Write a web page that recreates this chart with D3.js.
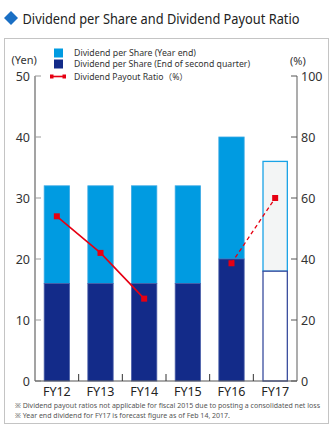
<!DOCTYPE html>
<html><head><meta charset="utf-8">
<script src="https://cdn.jsdelivr.net/npm/d3@7/dist/d3.min.js"></script>
<style>body{margin:0;background:#fff}svg{display:block}text{font-family:"Noto Sans","Noto Sans CJK JP",sans-serif}</style>
</head><body><svg id="c" width="330" height="434"></svg>
<script>
const categories = ["FY12","FY13","FY14","FY15","FY16","FY17"];
const secondQuarter = [16,16,16,16,20,18];
const yearEnd = [16,16,16,16,20,18];
const payoutRatio = [54,42,27,null,38.6,60];
const forecast = [false,false,false,false,false,true];
const yenTicks = [0,10,20,30,40,50];
const pctTicks = [0,20,40,60,80,100];

const svg = d3.select("#c");
const m = {l:35, r:297, t:76, b:381};
const x = d3.scaleBand().domain(categories).range([m.l, m.r]).paddingInner(0.42).paddingOuter(0.21);
const y = d3.scaleLinear().domain([0,50]).range([m.b, m.t]);
const y2 = d3.scaleLinear().domain([0,100]).range([m.b, m.t]);

const LB = "#009be1", NAVY = "#132b89", RED = "#e60012";

// Title
svg.append("path").attr("d","M11,11 L18,18 L11,25 L4,18 Z").attr("fill","#1a6fc4");
svg.append("text").attr("x",22.5).attr("y",23.5).attr("font-size",14).attr("fill","#222")
  .attr("textLength",277).attr("lengthAdjust","spacingAndGlyphs")
  .text("Dividend per Share and Dividend Payout Ratio");

// Frame
svg.append("rect").attr("x",4.5).attr("y",38.5).attr("width",324).attr("height",385)
  .attr("fill","none").attr("stroke","#c4c4c4");

// Bars
const g = svg.append("g");
categories.forEach((c,i)=>{
  const bx = x(c), bw = x.bandwidth();
  const total = secondQuarter[i] + yearEnd[i];
  if (!forecast[i]) {
    g.append("rect").attr("x",bx).attr("y",y(total)).attr("width",bw)
      .attr("height",y(secondQuarter[i]) - y(total)).attr("fill",LB).attr("stroke","#3aa9e4").attr("stroke-width",0.8);
    g.append("rect").attr("x",bx).attr("y",y(secondQuarter[i])).attr("width",bw)
      .attr("height",y(0) - y(secondQuarter[i])).attr("fill",NAVY).attr("stroke","#4a5fa8").attr("stroke-width",0.8);
  } else {
    g.append("rect").attr("x",bx+0.5).attr("y",y(total)).attr("width",bw-1)
      .attr("height",y(secondQuarter[i]) - y(total)).attr("fill","#f3f5f5").attr("stroke","#1aa3e6").attr("stroke-width",1.3);
    g.append("rect").attr("x",bx+0.5).attr("y",y(secondQuarter[i])).attr("width",bw-1)
      .attr("height",y(0) - y(secondQuarter[i])).attr("fill","#fff").attr("stroke","#3a4d9e").attr("stroke-width",1.3);
  }
});

// Axes
const left = svg.append("g");
left.append("line").attr("x1",m.l).attr("x2",m.l).attr("y1",m.t).attr("y2",m.b).attr("stroke","#666").attr("stroke-width",1.2);
yenTicks.forEach(t=>{
  left.append("line").attr("x1",m.l).attr("x2",m.l+6).attr("y1",y(t)).attr("y2",y(t)).attr("stroke","#999");
  left.append("text").attr("x",30).attr("y",y(t)+4.5).attr("text-anchor","end").attr("font-size",12.5).attr("fill","#333").text(t);
});
const right = svg.append("g");
right.append("line").attr("x1",m.r).attr("x2",m.r).attr("y1",m.t).attr("y2",m.b).attr("stroke","#999").attr("stroke-width",1.6);
pctTicks.forEach(t=>{
  right.append("line").attr("x1",m.r-6).attr("x2",m.r).attr("y1",y2(t)).attr("y2",y2(t)).attr("stroke","#555");
  right.append("text").attr("x",301).attr("y",y2(t)+4.5).attr("text-anchor","start").attr("font-size",12.5).attr("fill","#333").text(t);
});
// bottom
svg.append("line").attr("x1",m.l).attr("x2",m.r).attr("y1",m.b).attr("y2",m.b).attr("stroke","#555").attr("stroke-width",1.2);
categories.slice(1).forEach(c=>{
  const bx = x(c) - x.step()*x.paddingInner()/2;
  svg.append("line").attr("x1",bx).attr("x2",bx).attr("y1",m.b-7).attr("y2",m.b).attr("stroke","#333");
});
categories.forEach(c=>{
  svg.append("text").attr("x",x(c)+x.bandwidth()/2).attr("y",396).attr("text-anchor","middle")
    .attr("font-size",12.5).attr("fill","#222").text(c);
});

svg.append("text").attr("x",11.5).attr("y",64).attr("font-size",11).attr("fill","#333").text("(Yen)");
svg.append("text").attr("x",290).attr("y",65).attr("font-size",11).attr("fill","#333").text("(%)");

// Payout line
const pts = categories.map((c,i)=>({x:x(c)+x.bandwidth()/2, y: payoutRatio[i]==null?null:y2(payoutRatio[i]), f:forecast[i], i}));
const line = d3.line().x(d=>d.x).y(d=>d.y);
const actual = pts.filter(d=>d.y!=null && !d.f && d.i<3);
svg.append("path").attr("d",line(actual)).attr("fill","none").attr("stroke",RED).attr("stroke-width",1.6);
const dashed = pts.filter(d=>d.i>=4);
svg.append("path").attr("d",line(dashed)).attr("fill","none").attr("stroke",RED).attr("stroke-width",1.3).attr("stroke-dasharray","4,3");
pts.filter(d=>d.y!=null).forEach(d=>{
  svg.append("rect").attr("x",d.x-3).attr("y",d.y-3).attr("width",6).attr("height",6).attr("fill",RED);
});

// Legend
svg.append("rect").attr("x",54).attr("y",48.5).attr("width",9).attr("height",9).attr("fill",LB);
svg.append("rect").attr("x",54).attr("y",59.5).attr("width",9).attr("height",9).attr("fill",NAVY);
svg.append("line").attr("x1",50).attr("x2",66).attr("y1",76.5).attr("y2",76.5).attr("stroke",RED).attr("stroke-width",1.6);
svg.append("rect").attr("x",50).attr("y",74.5).attr("width",3.5).attr("height",4).attr("fill",RED);
svg.append("rect").attr("x",62.5).attr("y",74.5).attr("width",3.5).attr("height",4).attr("fill",RED);
const legT = [["Dividend per Share (Year end)",55.5,122],["Dividend per Share (End of second quarter)",66.5,176],["Dividend Payout Ratio（%）",80,114]];
legT.forEach(([t,yy,w])=>{
  svg.append("text").attr("x",74).attr("y",yy).attr("font-size",8.5).attr("fill","#333")
    .attr("textLength",w).attr("lengthAdjust","spacingAndGlyphs").text(t);
});

// Footnotes
svg.append("text").attr("x",15).attr("y",408).attr("font-size",7.5).attr("fill","#555")
  .attr("textLength",305).attr("lengthAdjust","spacingAndGlyphs")
  .text("※ Dividend payout ratios not applicable for fiscal 2015 due to posting a consolidated net loss");
svg.append("text").attr("x",15).attr("y",417.5).attr("font-size",7.5).attr("fill","#555")
  .attr("textLength",215).attr("lengthAdjust","spacingAndGlyphs")
  .text("※ Year end dividend for FY17 is forecast figure as of Feb 14, 2017.");
</script></body></html>
